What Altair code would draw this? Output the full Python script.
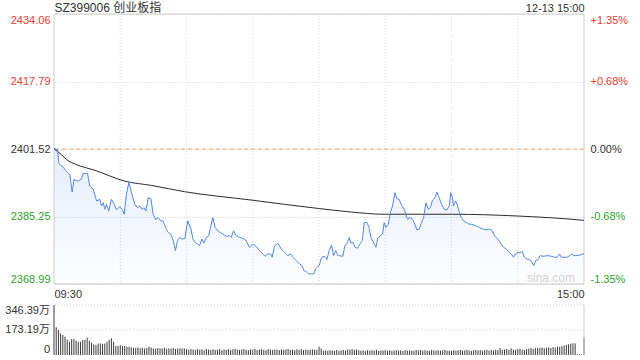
import altair as alt
import pandas as pd

title_text = "SZ399006 创业板指"
date_text = "12-13 15:00"
time_labels = ["09:30", "15:00"]
prev_close = 2401.52
price_ticks = [2368.99, 2385.25, 2401.52, 2417.79, 2434.06]
pct_labels = ["-1.35%", "-0.68%", "0.00%", "+0.68%", "+1.35%"]
vol_ticks = [0, 173.19, 346.39]
vol_tick_labels = ["0", "173.19万", "346.39万"]
grid_minutes = [30, 60, 90, 120, 150, 180, 210]

price_minutes = [
    0.0, 1.6, 2.2, 2.6, 4.2, 4.9, 6.4, 7.2, 8.2, 9.1, 11.0, 12.5, 13.2, 15.2, 16.2, 17.7,
    19.3, 20.8, 21.5, 22.3, 23.0, 23.8, 24.8, 26.0, 27.3, 28.3, 29.8, 30.9, 31.8, 32.8,
    33.9, 35.1, 36.6, 37.8, 38.9, 39.9, 40.8, 41.6, 42.7, 43.9, 44.9, 46.0, 47.2, 48.4,
    49.4, 50.5, 51.7, 52.9, 54.0, 55.0, 55.9, 57.0, 58.1, 59.3, 60.0, 60.6, 61.4, 62.1,
    62.9, 63.9, 65.1, 65.9, 67.0, 67.9, 68.9, 70.0, 70.9, 71.9, 73.0, 74.2, 75.7, 77.2,
    78.4, 79.5, 80.2, 81.3, 82.5, 84.0, 85.5, 87.0, 88.5, 90.1, 91.6, 93.1, 94.6, 95.6,
    96.8, 98.1, 98.8, 99.9, 101.4, 102.9, 104.4, 105.9, 107.1, 108.2, 109.7, 111.2, 112.2,
    113.2, 114.2, 115.3, 116.5, 117.7, 118.4, 119.5, 120.1, 121.2, 122.4, 123.6, 124.6,
    125.7, 126.6, 127.6, 128.7, 130.8, 131.7, 132.9, 133.7, 134.4, 135.5, 136.3, 137.5,
    138.5, 139.6, 140.5, 141.7, 142.7, 143.5, 144.7, 145.8, 146.5, 147.7, 148.8, 149.5,
    150.3, 151.4, 152.3, 153.3, 154.4, 155.3, 156.3, 157.4, 158.6, 159.3, 160.1, 161.2,
    162.4, 163.4, 164.3, 165.4, 166.1, 167.4, 168.4, 169.5, 170.4, 171.4, 172.5, 173.4,
    174.4, 175.5, 176.7, 177.9, 179.0, 179.7, 180.3, 180.9, 181.8, 182.4, 183.4, 184.4,
    185.5, 186.7, 187.9, 188.9, 191.2, 192.7, 194.2, 195.7, 197.2, 198.5, 199.5, 201.0,
    202.5, 203.6, 204.8, 206.0, 207.1, 208.1, 209.0, 210.1, 211.1, 212.0, 213.1, 214.1,
    215.4, 216.6, 217.3, 218.1, 219.1, 220.2, 221.4, 223.7, 225.2, 226.7, 227.7, 228.9,
    229.7, 232.3, 233.5, 234.5, 235.3, 236.8, 238.3, 239.5, 240.0,
]
price_values = [
    2401.60, 2401.35, 2398.16, 2397.76, 2397.21, 2396.57, 2395.77, 2395.37, 2391.14, 2394.17,
    2393.77, 2394.33, 2395.61, 2395.61, 2392.58, 2391.94, 2388.99, 2389.39, 2387.79, 2388.59,
    2387.00, 2388.19, 2386.60, 2389.39, 2388.19, 2386.84, 2387.64, 2387.00, 2385.80, 2390.59,
    2393.54, 2390.99, 2388.19, 2387.40, 2387.79, 2387.00, 2387.40, 2386.60, 2389.79, 2389.55,
    2385.80, 2384.60, 2385.00, 2384.20, 2384.20, 2382.61, 2381.41, 2381.02, 2379.42, 2377.03,
    2379.42, 2380.22, 2379.82, 2379.98, 2382.61, 2384.20, 2383.00, 2382.21, 2379.82, 2379.02,
    2378.62, 2378.22, 2379.82, 2378.86, 2380.22, 2380.62, 2382.61, 2385.00, 2382.61, 2381.81,
    2381.25, 2380.78, 2380.46, 2380.62, 2380.22, 2381.81, 2380.62, 2380.22, 2380.06, 2379.42,
    2377.83, 2378.62, 2378.07, 2377.03, 2376.23, 2375.67, 2376.23, 2376.23, 2375.43, 2378.22,
    2378.78, 2377.43, 2376.63, 2375.83, 2376.23, 2375.43, 2374.63, 2373.84, 2373.44, 2372.24,
    2372.00, 2371.44, 2371.44, 2371.44, 2372.64, 2373.20, 2373.44, 2375.43, 2375.67, 2374.87,
    2377.03, 2378.38, 2375.83, 2377.03, 2375.83, 2375.67, 2378.22, 2379.02, 2380.22, 2378.86,
    2379.02, 2377.83, 2377.59, 2378.62, 2379.42, 2383.81, 2383.81, 2382.61, 2380.22, 2379.02,
    2377.83, 2379.82, 2380.62, 2381.02, 2383.81, 2382.61, 2383.41, 2386.20, 2387.79, 2390.99,
    2389.55, 2389.39, 2387.96, 2387.00, 2385.80, 2384.60, 2385.00, 2384.60, 2383.41, 2382.05,
    2382.21, 2383.41, 2385.00, 2388.59, 2387.00, 2387.40, 2389.23, 2389.79, 2391.14, 2389.79,
    2388.19, 2387.00, 2386.84, 2387.79, 2390.99, 2390.19, 2387.79, 2388.99, 2388.43, 2386.60,
    2385.00, 2384.20, 2383.81, 2383.41, 2383.41, 2383.00, 2382.61, 2382.21, 2382.05, 2382.21,
    2381.81, 2380.62, 2379.82, 2378.62, 2377.83, 2377.43, 2376.63, 2376.23, 2375.43, 2376.23,
    2376.63, 2376.47, 2376.87, 2375.43, 2375.03, 2374.87, 2374.08, 2373.44, 2374.63, 2374.87,
    2375.83, 2375.67, 2375.83, 2375.67, 2375.43, 2375.43, 2376.23, 2375.43, 2375.43, 2375.83,
    2376.23, 2375.83, 2375.83, 2375.99, 2376.23, 2376.20,
]

avg_minutes = [0, 3.4, 5.7, 10.2, 18.5, 32.1, 44.2, 59.2, 89.3, 120.2, 134.3, 149.5, 180.5, 209.3, 239.2, 240]
avg_values = [2401.52, 2400.16, 2398.96, 2397.76, 2396.40, 2393.77, 2392.74, 2391.23, 2389.22,
              2387.16, 2386.35, 2385.80, 2385.80, 2385.39, 2384.37, 2384.33]

volumes = [
    346, 192, 173, 150, 139, 127, 104, 92, 111, 111, 100, 92, 92, 104, 104, 120, 100, 85, 74, 69,
    80, 80, 76, 80, 92, 104, 115, 92, 62, 62, 69, 62, 62, 58, 58, 53,
    50, 48, 52, 47, 50, 45, 48, 58, 52, 46, 44, 49, 47, 45, 50, 43, 46, 44, 48, 42, 45, 47, 44, 46,
    40, 36, 42, 38, 35, 41, 37, 39, 34, 43, 38, 36, 40, 35, 37, 42, 33, 38, 36, 40, 34, 39, 44, 37,
    35, 38, 41, 36, 34, 39, 37, 42, 35, 38, 40, 36, 33, 41, 38, 35, 39, 37, 34, 40, 36, 38, 42, 35,
    37, 33, 39, 36, 40, 34, 38, 35, 37, 39, 36, 36, 58,
    45, 30, 32, 29, 33, 31, 28, 34, 30, 32, 35, 31, 38, 37, 40, 36, 39, 33, 30, 32,
    29, 34, 31, 33, 30, 36, 28, 32, 31, 35, 30, 33, 29, 31, 34, 30, 32, 28, 35, 31,
    33, 30, 29, 34, 32, 36, 30, 33, 31, 29, 35, 32, 30, 34, 31, 33, 36, 30, 32, 29,
    34, 31, 33, 35, 30, 32, 36, 31, 29, 33, 35, 32, 34, 30, 33, 36, 31, 35, 33, 37,
    34, 48, 36, 38, 42, 35, 46, 38, 36, 40, 44, 37, 35, 41, 45, 47, 43, 48, 50, 49,
    52, 47, 51, 53, 49, 55, 52, 58, 56, 62, 66, 70, 74, 78, 82, 80, 6, 5, 6, 120,
]

FONT = "Liberation Sans, Arial, Noto Sans CJK SC, sans-serif"
RED = "#ee3b30"
GREEN = "#2ba42b"
DARK = "#333333"
GRID = "#cccccc"
VGRID = "#d4d4d4"
BLUE = "#5088ee"

price_df = pd.DataFrame({"m": price_minutes, "p": price_values})
avg_df = pd.DataFrame({"m": avg_minutes, "p": avg_values})
vol_df = pd.DataFrame({"m": list(range(len(volumes))), "v": volumes})
grid_df = pd.DataFrame({"m": grid_minutes})
one_df = pd.DataFrame({"a": [0]})
volgrid_df = pd.DataFrame({"v": vol_ticks[1:]})
vlab_df = pd.DataFrame({"v": vol_ticks, "t": vol_tick_labels})

lo, hi = price_ticks[0], price_ticks[-1]
x_scale = alt.Scale(domain=[0, 240], nice=False, zero=False)
py = alt.Scale(domain=[lo, hi], range=[270, 0], nice=False, zero=False)
vy = alt.Scale(domain=[0, vol_ticks[-1]], range=[341, 291], nice=False, zero=False)

label_color = {
    "condition": [
        {"test": f"datum.value > {prev_close + 0.01}", "value": RED},
        {"test": f"datum.value < {prev_close - 0.01}", "value": GREEN},
    ],
    "value": DARK,
}

pct_expr = " : ".join(
    f"abs(datum.value - {v}) < 0.01 ? '{l}'" for v, l in zip(price_ticks, pct_labels)
) + " : ''"

left_axis = alt.Axis(values=price_ticks, format=".2f", orient="left", grid=True, gridColor=GRID,
                     gridDash=[1, 2], domain=False, ticks=False, labelFlush=True, labelPadding=4,
                     labelFont=FONT, labelFontSize=11, labelColor=label_color, title=None)
right_axis = alt.Axis(values=price_ticks, orient="right", labelExpr=pct_expr, grid=False,
                      domain=False, ticks=False, labelFlush=True, labelPadding=6,
                      labelFont=FONT, labelFontSize=11, labelColor=label_color, title=None)
bottom_axis = alt.Axis(values=[0, 240], orient="bottom", offset=-71,
                       labelExpr=f"datum.value < 1 ? '{time_labels[0]}' : '{time_labels[1]}'",
                       labelFlush=True, labelPadding=4, grid=False, domain=False, ticks=False,
                       labelFont=FONT, labelFontSize=11, labelColor=DARK, title=None)
top_axis = alt.Axis(values=[0, 240], orient="top",
                    labelExpr=f"datum.value < 1 ? '{title_text}' : '{date_text}'",
                    labelFlush=True, labelPadding=3, labelBaseline="alphabetic",
                    grid=False, domain=False, ticks=False,
                    labelFont=FONT,
                    labelFontSize={"condition": {"test": "datum.value < 1", "value": 12}, "value": 11},
                    labelColor=DARK, title=None)

def X(field="m", axis=None):
    return alt.X(field, type="quantitative", scale=x_scale, axis=axis)

vgrid = alt.Chart(grid_df).mark_rule(color=VGRID, strokeDash=[1, 2], strokeWidth=1).encode(
    x=X(), y=alt.Y(datum=lo, scale=py, axis=None), y2=alt.Y2(datum=hi))

area = alt.Chart(price_df).mark_area(
    color=alt.Gradient(gradient="linear",
                       stops=[alt.GradientStop(color="rgba(80,136,238,0.15)", offset=0),
                              alt.GradientStop(color="rgba(80,136,238,0.01)", offset=1)],
                       x1=1, x2=1, y1=0, y2=1)
).encode(x=X(axis=top_axis), y=alt.Y("p:Q", scale=py, axis=None), y2=alt.Y2(datum=lo))

prev_rule = alt.Chart(one_df).mark_rule(color="#f4a767", strokeDash=[4, 3], strokeWidth=1).encode(
    y=alt.Y(datum=prev_close, scale=py, axis=None))

border = alt.Chart(one_df).mark_rect(fillOpacity=0, stroke=GRID, strokeWidth=1).encode(
    x=alt.X(datum=0, scale=x_scale, axis=None), x2=alt.X2(datum=240),
    y=alt.Y(datum=lo, scale=py, axis=None), y2=alt.Y2(datum=hi))

avg_line = alt.Chart(avg_df).mark_line(color="#2b2b2b", strokeWidth=1, interpolate="monotone").encode(
    x=X(), y=alt.Y("p:Q", scale=py, axis=right_axis))

price_line = alt.Chart(price_df).mark_line(color=BLUE, strokeWidth=1).encode(
    x=X(axis=bottom_axis), y=alt.Y("p:Q", scale=py, axis=left_axis))

vol_grid = alt.Chart(volgrid_df).mark_rule(color=GRID, strokeDash=[1, 2], strokeWidth=1).encode(
    y=alt.Y("v:Q", scale=vy, axis=None))

vol_bars = alt.Chart(vol_df).mark_rule(color="#3c3c3c", strokeWidth=1).encode(
    x=X(), y=alt.Y("v:Q", scale=vy, axis=None), y2=alt.Y2(datum=0))

vol_border = alt.Chart(one_df).mark_rule(color=GRID, strokeWidth=1).encode(
    x=alt.X(datum=240, scale=x_scale, axis=None),
    y=alt.Y(datum=0, scale=vy, axis=None), y2=alt.Y2(datum=vol_ticks[-1]))

vol_labels = alt.Chart(vlab_df).mark_text(
    align="right", font=FONT, fontSize=11, color=DARK,
    baseline=alt.expr("datum.v > 300 ? 'top' : (datum.v < 1 ? 'bottom' : 'middle')")
).encode(x=alt.value(-4), y=alt.Y("v:Q", scale=vy, axis=None), text="t:N")

watermark = alt.Chart(one_df).mark_text(
    text="sina.com", align="right", baseline="alphabetic", font=FONT, fontSize=12,
    color="#d0d0d0", dx=-9, dy=-2
).encode(x=alt.X(datum=240, scale=x_scale, axis=None), y=alt.Y(datum=lo, scale=py, axis=None))

chart = alt.layer(
    vgrid, area, prev_rule, border, watermark, avg_line, price_line,
    vol_grid, vol_bars, vol_border, vol_labels
).resolve_scale(y="independent").resolve_axis(x="independent", y="independent").properties(
    width=530, height=341,
    autosize=alt.AutoSizeParams(type="none"),
    padding={"left": 54, "top": 14, "right": 56, "bottom": 5},
    background="white",
).configure_view(stroke=None)

chart.save("out.html", embed_options={"renderer": "svg", "actions": False})
